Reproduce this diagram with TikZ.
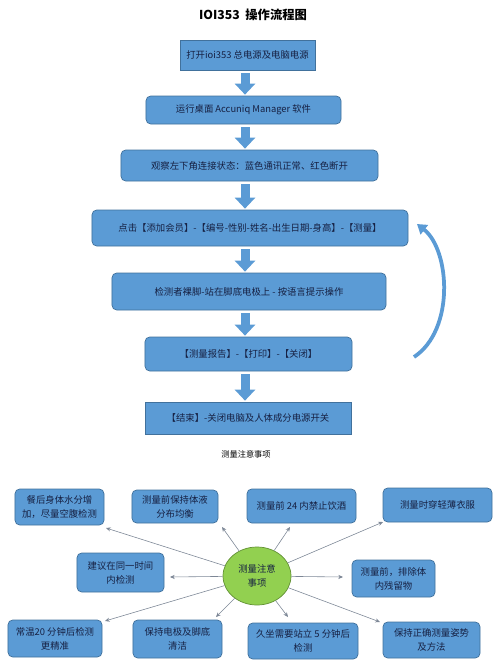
\documentclass[tikz,border=0pt]{standalone}
\usepackage{fontspec}
\setmainfont{Noto Sans CJK SC}
\usepackage{tikz}
\usetikzlibrary{arrows.meta,shapes.geometric}

\definecolor{boxblue}{RGB}{91,155,213}
\definecolor{boxline}{RGB}{65,113,156}
\definecolor{boxtext}{RGB}{22,32,66}
\definecolor{hubgreen}{RGB}{146,208,80}
\definecolor{hubline}{RGB}{98,145,52}
\definecolor{spokegray}{RGB}{125,135,150}

\begin{document}
\begin{tikzpicture}[
        x=0.03cm, y=-0.03cm,
        flow/.style={
            rectangle,
            draw=boxline,
            fill=boxblue,
            text=boxtext,
            font=\fontsize{8}{12}\selectfont,
            align=center,
            inner sep=0pt,
            line width=0.6pt
        },
        soft/.style={
            flow,
            rounded corners=4pt
        },
        hub/.style={
            ellipse,
            draw=hubline,
            fill=hubgreen,
            text=boxtext,
            font=\fontsize{8}{12}\selectfont,
            align=center,
            inner sep=0pt,
            line width=0.6pt,
            minimum width=2.04cm,
            minimum height=1.74cm
        },
        bigarrow/.style={
            draw=boxblue,
            line width=0.27cm,
            -{Triangle[width=0.6cm,length=0.33cm]}
        },
        spoke/.style={
            draw=spokegray,
            line width=0.5pt,
            -{Stealth[length=4pt,width=3.5pt]}
        },
        looparrow/.style={
            draw=boxblue,
            line width=3.2pt,
            -{Triangle[width=10pt,length=8pt]}
        }
    ]

        \useasboundingbox (0,0) rectangle (500,672);

        % title
        \node[font=\fontsize{10.5}{12}\selectfont\bfseries] (title) at (253,15) {IOI353\ \ 操作流程图};

        % flow chart
        \node[flow, minimum width=4.05cm, minimum height=0.9cm] (s1) at (247.5,55) {打开ioi353 总电源及电脑电源};
        \node[soft, minimum width=5.85cm, minimum height=0.84cm] (s2) at (243.5,110) {运行桌面 Accuniq Manager 软件};
        \node[soft, minimum width=7.71cm, minimum height=0.93cm] (s3) at (249.5,165.5) {观察左下角连接状态：蓝色通讯正常、红色断开};
        \node[soft, minimum width=9.48cm, minimum height=1.08cm] (s4) at (250,228) {点击【添加会员】-【编号-性别-姓名-出生日期-身高】-【测量】};
        \node[soft, minimum width=8.22cm, minimum height=1.11cm] (s5) at (249,291.5) {检测者裸脚-站在脚底电极上\ -\ 按语言提示操作};
        \node[soft, minimum width=6.21cm, minimum height=1.02cm] (s6) at (248.5,354) {【测量报告】-【打印】-【关闭】};
        \node[flow, minimum width=6.18cm, minimum height=0.96cm] (s7) at (248,418) {【结束】-关闭电脑及人体成分电源开关};

        \foreach \a/\b in {s1/s2,s2/s3,s3/s4,s4/s5,s5/s6,s6/s7} {
            \draw[bigarrow, shorten <=0.09cm, shorten >=0.03cm] (245,0 |- \a.south) -- (245,0 |- \b.north);
        }

        % back loop
        \coordinate (loopS) at (414,357);
        \coordinate (loopE) at (417,224);
        \draw[looparrow] (loopS) .. controls (455,330) and (450,250) .. (loopE);

        \node[font=\fontsize{7}{9}\selectfont] (subtitle) at (246,454) {测量注意事项};

        % notes
        \node[hub] (hub) at (257,576) {测量注意\\事项};

        \node[soft, minimum width=2.67cm, minimum height=1.08cm] (n1) at (59.5,507) {餐后身体水分增\\加，尽量空腹检测};
        \node[soft, minimum width=2.58cm, minimum height=0.99cm] (n2) at (175,506.5) {测量前保持体液\\分布均衡};
        \node[soft, minimum width=3.27cm, minimum height=1.02cm] (n3) at (301.5,506) {测量前 24 内禁止饮酒};
        \node[soft, minimum width=3.27cm, minimum height=1.02cm] (n4) at (437.5,505) {测量时穿轻薄衣服};
        \node[soft, minimum width=2.61cm, minimum height=1.17cm] (n5) at (120.5,572.5) {建议在同一时间\\内检测};
        \node[soft, minimum width=2.49cm, minimum height=1.11cm] (n9) at (393.5,578.5) {测量前，排除体\\内残留物};
        \node[soft, minimum width=2.82cm, minimum height=1.11cm] (n6) at (55,638.5) {常温20 分钟后检测\\更精准};
        \node[soft, minimum width=2.67cm, minimum height=1.14cm] (n7) at (177.5,639) {保持电极及脚底\\清洁};
        \node[soft, minimum width=3.3cm, minimum height=1.08cm] (n8) at (303,641) {久坐需要站立 5 分钟后\\检测};
        \node[soft, minimum width=2.91cm, minimum height=1.08cm] (n10) at (431.5,640) {保持正确测量姿势\\及方法};

        \coordinate (e1) at (106,528);
        \coordinate (e2) at (222,527);
        \coordinate (e3) at (290,527);
        \coordinate (e4) at (383,522);
        \coordinate (e5) at (170,577);
        \coordinate (e6) at (105,621);
        \coordinate (e7) at (216,617);
        \coordinate (e8) at (288,617);
        \coordinate (e9) at (343,577);
        \coordinate (e10) at (380,622);

        \foreach \i in {1,...,10} {
            \draw[spoke] (hub) -- (e\i);
        }

    \end{tikzpicture}
\end{document}
